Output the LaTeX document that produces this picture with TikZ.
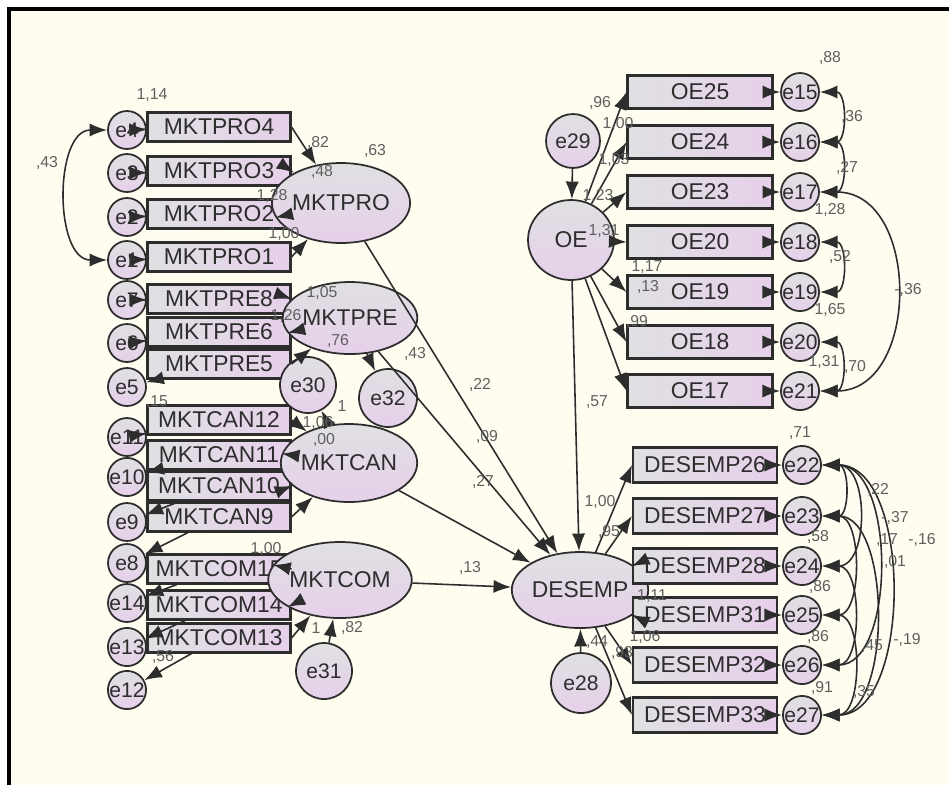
\documentclass[tikz,border=0pt]{standalone}
\usepackage{fontspec}
\setmainfont{Liberation Sans}
\usetikzlibrary{shapes.geometric,arrows.meta}
\definecolor{cream}{RGB}{255,253,240}
\definecolor{lav}{RGB}{230,208,234}
\definecolor{pgray}{RGB}{224,224,226}
\definecolor{ink}{RGB}{45,45,45}
\definecolor{soft}{RGB}{95,95,95}

\begin{document}
\begin{tikzpicture}[x=0.02cm, y=-0.02cm,
    ind/.style={rectangle, draw=ink, line width=1.2pt, left color=pgray, right color=lav, minimum width=2.86cm, minimum height=0.58cm, inner sep=0pt, font=\fontsize{13}{14}\selectfont, text=ink},
    lat/.style={ellipse, draw=ink, line width=1pt, top color=pgray, bottom color=lav, inner sep=0pt, font=\fontsize{13}{14}\selectfont, text=ink},
    err/.style={circle, draw=ink, line width=1pt, top color=pgray, bottom color=lav, inner sep=0pt, font=\fontsize{12}{13}\selectfont, text=ink},
    reg/.style={-{Latex[length=10pt,width=7.5pt]}, draw=ink, line width=0.9pt},
    cov/.style={{Latex[length=10pt,width=7.5pt]}-{Latex[length=10pt,width=7.5pt]}, draw=ink, line width=0.9pt},
    lbl/.style={font=\fontsize{9}{10}\selectfont, text=soft, inner sep=0pt}]
    \useasboundingbox (0,0) rectangle (949,785);
    \fill[white] (0,0) rectangle (949,785);
    \fill[cream] (9,9) rectangle (949,785);
    \draw[line width=1.8pt] (9,785) -- (9,9) -- (949,9);

    % left indicators
    \node (p4) at (219,127) [ind] {MKTPRO4};
    \node (p3) at (219,171) [ind] {MKTPRO3};
    \node (p2) at (219,214) [ind] {MKTPRO2};
    \node (p1) at (219,257) [ind] {MKTPRO1};
    \node (r8) at (219,299) [ind] {MKTPRE8};
    \node (r6) at (219,332) [ind] {MKTPRE6};
    \node (r5) at (219,364) [ind] {MKTPRE5};
    \node (c12) at (219,420) [ind] {MKTCAN12};
    \node (c11) at (219,455) [ind] {MKTCAN11};
    \node (c10) at (219,486) [ind] {MKTCAN10};
    \node (c9) at (219,517) [ind] {MKTCAN9};
    \node (m15) at (219,569) [ind] {MKTCOM15};
    \node (m14) at (219,605) [ind] {MKTCOM14};
    \node (m13) at (219,638) [ind] {MKTCOM13};

    % left errors
    \node (e4) at (127,130) [err, minimum size=0.76cm] {e4};
    \node (e3) at (127,173) [err, minimum size=0.76cm] {e3};
    \node (e2) at (127,217) [err, minimum size=0.76cm] {e2};
    \node (e1) at (127,260) [err, minimum size=0.76cm] {e1};
    \node (e7) at (127,300) [err, minimum size=0.76cm] {e7};
    \node (e6) at (127,343) [err, minimum size=0.76cm] {e6};
    \node (e5) at (127,387) [err, minimum size=0.76cm] {e5};
    \node (e11) at (127,437) [err, minimum size=0.76cm] {e11};
    \node (e10) at (127,477) [err, minimum size=0.76cm] {e10};
    \node (e9) at (127,522) [err, minimum size=0.76cm] {e9};
    \node (e8) at (127,563) [err, minimum size=0.76cm] {e8};
    \node (e14) at (127,603) [err, minimum size=0.76cm] {e14};
    \node (e13) at (127,647) [err, minimum size=0.76cm] {e13};
    \node (e12) at (127,690) [err, minimum size=0.76cm] {e12};

    % left latents
    \node (mktpro) at (341,203) [lat, minimum width=1.84cm, minimum height=1.6cm] {MKTPRO};
    \node (mktpre) at (350,318) [lat, minimum width=1.88cm, minimum height=1.44cm] {MKTPRE};
    \node (mktcan) at (349,463) [lat, minimum width=1.92cm, minimum height=1.56cm] {MKTCAN};
    \node (mktcom) at (340,580) [lat, minimum width=1.88cm, minimum height=1.52cm] {MKTCOM};
    \node (e30) at (308,385) [err, minimum size=1.12cm] {e30};
    \node (e32) at (388,398) [err, minimum size=1.16cm] {e32};
    \node (e31) at (324,671) [err, minimum size=1.12cm] {e31};

    % right latents
    \node (oe) at (571,240) [lat, minimum width=1.72cm, minimum height=1.6cm] {OE};
    \node (e29) at (573,141) [err, minimum size=1.08cm] {e29};
    \node (desemp) at (580,590) [lat, minimum width=1.88cm, minimum height=1.52cm] {DESEMP};
    \node (e28) at (581,683) [err, minimum size=1.2cm] {e28};

    % OE indicators
    \node (o25) at (700,92) [ind, minimum width=2.9cm, minimum height=0.66cm] {OE25};
    \node (o24) at (700,142) [ind, minimum width=2.9cm, minimum height=0.66cm] {OE24};
    \node (o23) at (700,192) [ind, minimum width=2.9cm, minimum height=0.66cm] {OE23};
    \node (o20) at (700,242) [ind, minimum width=2.9cm, minimum height=0.66cm] {OE20};
    \node (o19) at (700,292) [ind, minimum width=2.9cm, minimum height=0.66cm] {OE19};
    \node (o18) at (700,342) [ind, minimum width=2.9cm, minimum height=0.66cm] {OE18};
    \node (o17) at (700,391) [ind, minimum width=2.9cm, minimum height=0.66cm] {OE17};
    \node (e15) at (800,92) [err, minimum size=0.68cm] {e15};
    \node (e16) at (800,142) [err, minimum size=0.68cm] {e16};
    \node (e17) at (800,192) [err, minimum size=0.68cm] {e17};
    \node (e18) at (800,242) [err, minimum size=0.68cm] {e18};
    \node (e19) at (800,292) [err, minimum size=0.68cm] {e19};
    \node (e20) at (800,342) [err, minimum size=0.68cm] {e20};
    \node (e21) at (800,391) [err, minimum size=0.68cm] {e21};

    % DESEMP indicators
    \node (d26) at (705,465) [ind, minimum width=2.88cm, minimum height=0.7cm] {DESEMP26};
    \node (d27) at (705,516) [ind, minimum width=2.88cm, minimum height=0.7cm] {DESEMP27};
    \node (d28) at (705,566) [ind, minimum width=2.88cm, minimum height=0.7cm] {DESEMP28};
    \node (d31) at (705,615) [ind, minimum width=2.88cm, minimum height=0.7cm] {DESEMP31};
    \node (d32) at (705,665) [ind, minimum width=2.88cm, minimum height=0.7cm] {DESEMP32};
    \node (d33) at (705,715) [ind, minimum width=2.88cm, minimum height=0.7cm] {DESEMP33};
    \node (e22) at (802,465) [err, minimum size=0.68cm] {e22};
    \node (e23) at (802,516) [err, minimum size=0.68cm] {e23};
    \node (e24) at (802,566) [err, minimum size=0.68cm] {e24};
    \node (e25) at (802,615) [err, minimum size=0.68cm] {e25};
    \node (e26) at (802,665) [err, minimum size=0.68cm] {e26};
    \node (e27) at (802,715) [err, minimum size=0.68cm] {e27};

    % measurement arrows, left
    \draw[reg] (p4) -- (e4);
    \draw[reg] (p3) -- (e3);
    \draw[reg] (p2) -- (e2);
    \draw[reg] (p1) -- (e1);
    \draw[reg] (r8) -- (e7);
    \draw[reg] (r6) -- (e6);
    \draw[reg] (r5) -- (e5);
    \draw[reg] (c12) -- (e11);
    \draw[reg] (c11) -- (e10);
    \draw[reg] (c10) -- (e9);
    \draw[reg] (c9) -- (e8);
    \draw[reg] (m15) -- (e14);
    \draw[reg] (m14) -- (e13);
    \draw[reg] (m13) -- (e12);
    \draw[reg] (p4.east) -- (mktpro);
    \draw[reg] (p3.east) -- (mktpro);
    \draw[reg] (p2.east) -- (mktpro);
    \draw[reg] (p1.east) -- (mktpro);
    \draw[reg] (r8.east) -- (mktpre);
    \draw[reg] (r6.east) -- (mktpre);
    \draw[reg] (r5.east) -- (mktpre);
    \draw[reg] (c12.east) -- (mktcan);
    \draw[reg] (c11.east) -- (mktcan);
    \draw[reg] (c10.east) -- (mktcan);
    \draw[reg] (c9.east) -- (mktcan);
    \draw[reg] (m15.east) -- (mktcom);
    \draw[reg] (m14.east) -- (mktcom);
    \draw[reg] (m13.east) -- (mktcom);
    \draw[cov] (e4) to[out=180, in=180, looseness=1.05] (e1);

    % measurement arrows, right
    \draw[reg] (oe) -- (o25.west);
    \draw[reg] (oe) -- (o24.west);
    \draw[reg] (oe) -- (o23.west);
    \draw[reg] (oe) -- (o20.west);
    \draw[reg] (oe) -- (o19.west);
    \draw[reg] (oe) -- (o18.west);
    \draw[reg] (oe) -- (o17.west);
    \draw[reg] (o25) -- (e15);
    \draw[reg] (o24) -- (e16);
    \draw[reg] (o23) -- (e17);
    \draw[reg] (o20) -- (e18);
    \draw[reg] (o19) -- (e19);
    \draw[reg] (o18) -- (e20);
    \draw[reg] (o17) -- (e21);
    \draw[reg] (desemp) -- (d26.west);
    \draw[reg] (desemp) -- (d27.west);
    \draw[reg] (desemp) -- (d28.west);
    \draw[reg] (desemp) -- (d31.west);
    \draw[reg] (desemp) -- (d32.west);
    \draw[reg] (desemp) -- (d33.west);
    \draw[reg] (d26) -- (e22);
    \draw[reg] (d27) -- (e23);
    \draw[reg] (d28) -- (e24);
    \draw[reg] (d31) -- (e25);
    \draw[reg] (d32) -- (e26);
    \draw[reg] (d33) -- (e27);

    % covariances
    \draw[cov] (e15) to[out=0, in=0, looseness=1.4] (e16);
    \draw[cov] (e16) to[out=0, in=0, looseness=1.4] (e17);
    \draw[cov] (e18) to[out=0, in=0, looseness=1.4] (e19);
    \draw[cov] (e20) to[out=0, in=0, looseness=1.4] (e21);
    \draw[cov] (e17) to[out=0, in=0, looseness=1.3] (e21);
    \draw[cov] (e22) to[out=0, in=0, looseness=1.4] (e23);
    \draw[cov] (e22) to[out=0, in=0, looseness=1.2] (e24);
    \draw[cov] (e23) to[out=0, in=0, looseness=1.05] (e25);
    \draw[cov] (e24) to[out=0, in=0, looseness=1.05] (e26);
    \draw[cov] (e25) to[out=0, in=0, looseness=1.05] (e27);
    \draw[cov] (e22) to[out=0, in=0, looseness=0.95] (e26);
    \draw[cov] (e23) to[out=0, in=0, looseness=0.9] (e27);
    \draw[cov] (e22) to[out=0, in=0, looseness=0.93] (e27);

    % structural paths
    \draw[reg] (mktpro) -- (desemp);
    \draw[reg] (mktpre) -- (desemp);
    \draw[reg] (mktcan) -- (desemp);
    \draw[reg] (mktcom) -- (desemp);
    \draw[reg] (oe) -- (desemp);
    \draw[reg] (e29) -- (oe);
    \draw[reg] (e28) -- (desemp);
    \draw[reg] (e31) -- (mktcom);
    \draw[reg] (mktcan) -- (e30);
    \draw[reg] (mktpre) -- (e32);

    % estimates
    \node (l1) at (152,95) [lbl] {1,14};
    \node (l2) at (47,163) [lbl] {,43};
    \node (l3) at (318,143) [lbl] {,82};
    \node (l4) at (375,151) [lbl] {,63};
    \node (l5) at (322,172) [lbl] {,48};
    \node (l6) at (272,196) [lbl] {1,28};
    \node (l7) at (284,234) [lbl] {1,00};
    \node (l8) at (322,293) [lbl] {1,05};
    \node (l9) at (286,316) [lbl] {1,26};
    \node (l10) at (338,341) [lbl] {,76};
    \node (l11) at (415,354) [lbl] {,43};
    \node (l12) at (318,423) [lbl] {1,06};
    \node (l13) at (324,440) [lbl] {,00};
    \node (l14) at (342,406) [lbl] {1};
    \node (l15) at (157,402) [lbl] {,15};
    \node (l16) at (163,657) [lbl] {,56};
    \node (l17) at (266,549) [lbl] {1,00};
    \node (l18) at (316,628) [lbl] {1};
    \node (l19) at (352,628) [lbl] {,82};
    \node (l20) at (480,385) [lbl] {,22};
    \node (l21) at (487,437) [lbl] {,09};
    \node (l22) at (483,482) [lbl] {,27};
    \node (l23) at (470,568) [lbl] {,13};
    \node (l24) at (597,402) [lbl] {,57};
    \node (l25) at (600,103) [lbl] {,96};
    \node (l26) at (618,124) [lbl] {1,00};
    \node (l27) at (614,160) [lbl] {1,03};
    \node (l28) at (598,196) [lbl] {1,23};
    \node (l29) at (604,231) [lbl] {1,31};
    \node (l30) at (647,267) [lbl] {1,17};
    \node (l31) at (648,287) [lbl] {,13};
    \node (l32) at (637,322) [lbl] {,99};
    \node (l33) at (830,58) [lbl] {,88};
    \node (l34) at (852,117) [lbl] {,36};
    \node (l35) at (847,168) [lbl] {,27};
    \node (l36) at (830,210) [lbl] {1,28};
    \node (l37) at (840,257) [lbl] {,52};
    \node (l38) at (830,310) [lbl] {1,65};
    \node (l39) at (824,362) [lbl] {1,31};
    \node (l40) at (855,367) [lbl] {,70};
    \node (l41) at (908,290) [lbl] {-,36};
    \node (l42) at (600,502) [lbl] {1,00};
    \node (l43) at (609,532) [lbl] {,95};
    \node (l44) at (652,596) [lbl] {1,11};
    \node (l45) at (645,637) [lbl] {1,06};
    \node (l46) at (597,642) [lbl] {,44};
    \node (l47) at (622,653) [lbl] {,93};
    \node (l48) at (800,433) [lbl] {,71};
    \node (l49) at (818,537) [lbl] {,58};
    \node (l50) at (820,587) [lbl] {,86};
    \node (l51) at (818,637) [lbl] {,86};
    \node (l52) at (822,688) [lbl] {,91};
    \node (l53) at (878,490) [lbl] {,22};
    \node (l54) at (895,518) [lbl] {-,37};
    \node (l55) at (887,540) [lbl] {,17};
    \node (l56) at (922,540) [lbl] {-,16};
    \node (l57) at (895,562) [lbl] {,01};
    \node (l58) at (872,646) [lbl] {,45};
    \node (l59) at (907,640) [lbl] {-,19};
    \node (l60) at (864,692) [lbl] {,35};
\end{tikzpicture}
\end{document}
